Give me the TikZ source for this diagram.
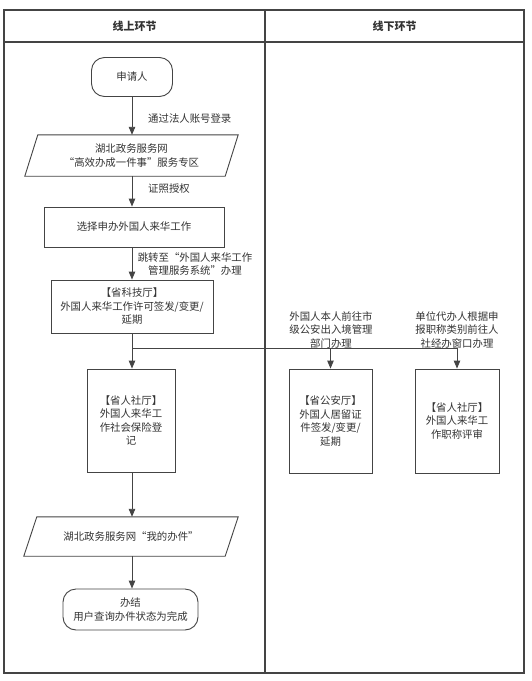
\documentclass[tikz,border=0pt]{standalone}
\usepackage{fontspec}
\setmainfont{Noto Sans CJK SC}
\usetikzlibrary{arrows.meta,calc}
\definecolor{ln}{HTML}{444444}
\definecolor{tx}{HTML}{333333}
\newcommand\myfont{\fontsize{10.4}{13.5}\selectfont}
\tikzset{
  lw/.style={draw=ln, line width=0.9pt},
  box/.style={lw, align=center, text=tx, font=\myfont, inner sep=2pt, anchor=center},
  para/.style={align=center, text=tx, font=\myfont, inner sep=2pt, anchor=center},
  lbl/.style={align=center, text=tx, font=\myfont, inner sep=0pt},
  arr/.style={lw, -{Triangle[length=8pt,width=6.5pt]}},
  frame/.style={draw=ln, line width=1.3pt},
  hdr/.style={text=tx, font=\fontsize{11}{13}\selectfont\bfseries, inner sep=0pt}
}
\begin{document}
\begin{tikzpicture}[x=1pt,y=-1pt]
\useasboundingbox (0,0) rectangle (531,681);
\fill[white] (0,0) rectangle (531,681);
% frame
\draw[frame] (4,10) rectangle (524,673);
\draw[frame] (4,42) -- (524,42);
\draw[frame] (265,10) -- (265,673);
\node[hdr] (h1) at (134.5,26) {线上环节};
\node[hdr] (h2) at (394.5,26) {线下环节};
% online column
\node[box, minimum width=81pt, minimum height=39pt, rounded corners=13pt] (sq) at (132,77) {申请人};
\node[para, minimum width=200pt, minimum height=41pt] (p1) at (131.5,155.5) {湖北政务服务网\\“高效办成一件事”服务专区};
\draw[lw] ($(p1.north west)+(6.5,0)$) -- ($(p1.north east)+(6.5,0)$) -- ($(p1.south east)+(-6.5,0)$) -- ($(p1.south west)+(-6.5,0)$) -- cycle;
\node[box, minimum width=180pt, minimum height=40pt] (xz) at (134,227) {选择申办外国人来华工作};
\node[box, minimum width=162pt, minimum height=53pt] (kj) at (132,306.5) {【省科技厅】\\外国人来华工作许可签发/变更/\\延期};
\node[box, minimum width=88pt, minimum height=103pt] (sr) at (131,420.5) {【省人社厅】\\外国人来华工\\作社会保险登\\记};
\node[para, minimum width=201pt, minimum height=39pt] (p2) at (131,536.5) {湖北政务服务网“我的办件”};
\draw[lw] ($(p2.north west)+(6.5,0)$) -- ($(p2.north east)+(6.5,0)$) -- ($(p2.south east)+(-6.5,0)$) -- ($(p2.south west)+(-6.5,0)$) -- cycle;
\node[box, minimum width=135pt, minimum height=41pt, rounded corners=13pt] (bj) at (130.5,609.5) {办结\\用户查询办件状态为完成};
% offline column
\node[box, minimum width=83pt, minimum height=104pt] (gy) at (330.5,421) {【省公安厅】\\外国人居留证\\件签发/变更/\\延期};
\node[box, minimum width=84pt, minimum height=104pt] (rs) at (457,421) {【省人社厅】\\外国人来华工\\作职称评审};
% labels
\node[lbl, anchor=west] (l1) at (148,119) {通过法人账号登录};
\node[lbl, anchor=west] (l2) at (148,189) {证照授权};
\node[lbl] (l3) at (195,264) {跳转至“外国人来华工作\\管理服务系统”办理};
\node[lbl] (l4) at (331,330) {外国人本人前往市\\级公安出入境管理\\部门办理};
\node[lbl] (l5) at (457,330) {单位代办人根据申\\报职称类别前往人\\社经办窗口办理};
% connectors
\coordinate (br) at (132,348);
\draw[arr] (sq.south -| 132,0) -- (132,0 |- p1.north);
\draw[arr] (132,0 |- p1.south) -- (132,0 |- xz.north);
\draw[arr] (132,0 |- xz.south) -- (132,0 |- kj.north);
\draw[arr] (kj.south) -- (132,0 |- sr.north);
\draw[lw] (br) -- (457,348);
\draw[arr] (br) -| (gy.north);
\draw[arr] (br) -| (rs.north);
\draw[arr] (132,0 |- sr.south) -- (132,0 |- p2.north);
\draw[arr] (132,0 |- p2.south) -- (132,0 |- bj.north);
\end{tikzpicture}
\end{document}
